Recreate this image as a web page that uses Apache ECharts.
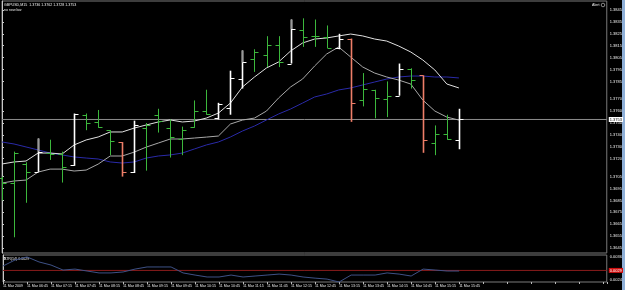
<!DOCTYPE html>
<html><head><meta charset="utf-8">
<script src="https://cdn.jsdelivr.net/npm/echarts@6/dist/echarts.min.js"></script>
<style>html,body{margin:0;padding:0;background:#000;overflow:hidden}#c{width:625px;height:290px}</style>
</head><body><div id="c"></div>
<script>
const symbolName = 'GBPUSD,M15';
const timeLabels = ['11 Mar 2009','11 Mar 06:45','11 Mar 07:15','11 Mar 07:45','11 Mar 08:15','11 Mar 08:45','11 Mar 09:15','11 Mar 09:45','11 Mar 10:15','11 Mar 10:45','11 Mar 11:15','11 Mar 11:45','11 Mar 12:15','11 Mar 12:45','11 Mar 13:15','11 Mar 13:45','11 Mar 14:15','11 Mar 14:45','11 Mar 15:15','11 Mar 15:45'];
const priceTicks = [1.3845,1.3835,1.3825,1.3815,1.3805,1.3795,1.3785,1.3770,1.3760,1.3750,1.3740,1.3730,1.3720,1.3705,1.3695,1.3685,1.3675,1.3665,1.3655,1.3645];
const atrTicks = [0.0036,0.0024];
const atrLevel = 0.0029;

const opens  = [1.3704,1.3700,1.3716,1.3709,1.3725,1.3724,1.3715,1.3757,1.3751,1.3744,1.3734,1.3709,1.3746,1.3757,1.3746,1.3737,1.3747,1.3760,1.3754,1.3763,1.3787,1.3804,1.3807,1.3816,1.3800,1.3828,1.3823,1.3822,1.3813,1.3821,1.3769,1.3778,1.3770,1.3773,1.3795,1.3790,1.3733,1.3741,1.3736];
const highs  = [1.3705,1.3726,1.3717,1.3737,1.3736,1.3726,1.3758,1.3758,1.3761,1.3744,1.3734,1.3752,1.3750,1.3762,1.3753,1.3747,1.3769,1.3778,1.3767,1.3794,1.3811,1.3812,1.3823,1.3823,1.3837,1.3838,1.3837,1.3832,1.3825,1.3821,1.3792,1.3778,1.3785,1.3800,1.3796,1.3790,1.3748,1.3757,1.3762];
const lows   = [1.3685,1.3654,1.3683,1.3709,1.3719,1.3700,1.3714,1.3744,1.3746,1.3723,1.3705,1.3708,1.3710,1.3742,1.3721,1.3723,1.3746,1.3757,1.3753,1.3757,1.3779,1.3793,1.3797,1.3797,1.3800,1.3814,1.3814,1.3813,1.3812,1.3751,1.3764,1.3754,1.3755,1.3773,1.3779,1.3725,1.3723,1.3736,1.3728];
const closes = [1.3700,1.3725,1.3709,1.3726,1.3724,1.3713,1.3758,1.3750,1.3747,1.3735,1.3709,1.3748,1.3748,1.3752,1.3738,1.3744,1.3760,1.3758,1.3766,1.3788,1.3801,1.3810,1.3816,1.3801,1.3829,1.3822,1.3823,1.3813,1.3821,1.3767,1.3779,1.3771,1.3773,1.3795,1.3786,1.3736,1.3741,1.3737,1.3753];
// g = green bar, w = white bar, v = white bar with grey wick above close, r = red bar
const barKinds = ['g','g','g','v','g','g','w','g','g','g','r','w','g','g','g','g','g','g','w','w','v','g','g','g','v','g','g','g','w','r','g','g','g','w','g','r','g','g','w'];

const maUpper = [1.37156,1.37173,1.37181,1.37248,1.37248,1.37240,1.37316,1.37358,1.37383,1.37425,1.37425,1.37458,1.37484,1.37509,1.37526,1.37509,1.37517,1.37542,1.37584,1.37668,1.37803,1.37887,1.37963,1.38013,1.38105,1.38173,1.38206,1.38215,1.38232,1.38248,1.38232,1.38206,1.38189,1.38147,1.38097,1.38030,1.37946,1.37828,1.37795];
const maLower = [1.36996,1.37013,1.37021,1.37088,1.37113,1.37113,1.37097,1.37105,1.37155,1.37223,1.37223,1.37256,1.37298,1.37332,1.37366,1.37366,1.37374,1.37382,1.37391,1.37492,1.37525,1.37542,1.37601,1.37710,1.37803,1.37870,1.37979,1.38080,1.38139,1.38055,1.37971,1.37920,1.37887,1.37861,1.37828,1.37693,1.37601,1.37550,1.37525];
const maSlow  = [1.37341,1.37324,1.37299,1.37274,1.37248,1.37232,1.37215,1.37206,1.37198,1.37173,1.37164,1.37173,1.37206,1.37223,1.37232,1.37248,1.37282,1.37316,1.37341,1.37383,1.37433,1.37475,1.37526,1.37576,1.37618,1.37668,1.37719,1.37744,1.37778,1.37795,1.37820,1.37845,1.37870,1.37887,1.37895,1.37895,1.37887,1.37887,1.37879];
const atrValues = [0.00313,0.00344,0.00360,0.00334,0.00318,0.00292,0.00297,0.00287,0.00277,0.00277,0.00282,0.00297,0.00308,0.00308,0.00308,0.00277,0.00266,0.00256,0.00256,0.00266,0.00256,0.00261,0.00266,0.00271,0.00266,0.00256,0.00250,0.00245,0.00230,0.00266,0.00266,0.00266,0.00277,0.00271,0.00261,0.00297,0.00292,0.00287,0.00287];

const kindColor = {g:'#3cb83c', w:'#ffffff', v:'#ffffff', r:'#ee7e68'};
const n = closes.length;
const last = n - 1;
const ohlcData = closes.map((c,i)=>[i, opens[i], highs[i], lows[i], c, barKinds[i]]);
const pair = arr => arr.map((v,i)=>[i,v]);
const XMAX = 50.3;
const FONT = 'Liberation Sans, Arial, sans-serif';

function hLine(value, color, boxBg, boxFg, xi, yi){
  return {type:'line', xAxisIndex:xi, yAxisIndex:yi, data:[[0,value],[XMAX,value]], showSymbol:false, silent:true,
    lineStyle:{color:color, width:1}, z:1,
    endLabel:{show:true, distance:2, formatter:()=>value.toFixed(4), color:boxFg, backgroundColor:boxBg,
      fontSize:4, fontFamily:FONT, padding:[1,1,0,1]}};
}

const chart = echarts.init(document.getElementById('c'), null, {renderer:'canvas'});
chart.setOption({
  animation:false,
  backgroundColor:'#000',
  grid:[
    {left:2, right:18, top:1, bottom:37, show:true, borderColor:'#7a7a7a', borderWidth:1, backgroundColor:'#000'},
    {left:2, right:18, top:255, bottom:8, show:true, borderColor:'#7a7a7a', borderWidth:1, backgroundColor:'#000'}
  ],
  xAxis:[
    {gridIndex:0, type:'value', min:0, max:XMAX, show:false},
    {gridIndex:1, type:'value', min:0, max:XMAX, interval:2,
     axisLine:{show:false}, splitLine:{show:false},
     axisTick:{show:true, length:2, lineStyle:{color:'#bbb'}},
     axisLabel:{fontSize:3.6, fontFamily:FONT, color:'#e8e8e8', align:'left', margin:2,
       formatter:v=>{const i=Math.round(v/2); return (Math.abs(v-2*i)<1e-6 && i<timeLabels.length)?timeLabels[i]:'';}}}
  ],
  yAxis:[
    {gridIndex:0, type:'value', position:'right', min:1.36408, max:1.385256,
     axisLine:{show:true, lineStyle:{color:'#c8c8c8'}}, splitLine:{show:false},
     axisTick:{show:true, customValues:priceTicks, length:2, lineStyle:{color:'#ccc'}},
     axisLabel:{customValues:priceTicks, fontSize:4, fontFamily:FONT, color:'#f0f0f0', margin:3, formatter:v=>v.toFixed(4)}},
    {gridIndex:1, type:'value', position:'right', min:0.0023, max:0.0037,
     axisLine:{show:true, lineStyle:{color:'#c8c8c8'}}, splitLine:{show:false},
     axisTick:{show:true, customValues:atrTicks, length:2, lineStyle:{color:'#ccc'}},
     axisLabel:{customValues:atrTicks, fontSize:4, fontFamily:FONT, color:'#f0f0f0', margin:3, formatter:v=>v.toFixed(4)}}
  ],
  graphic:[
    {type:'text', left:4, top:3, style:{text:symbolName+'  '+[opens[last],highs[last],lows[last],closes[last]].map(v=>v.toFixed(4)).join(' '), fill:'#f0f0f0', font:'3.6px '+FONT}},
    {type:'text', left:4, top:8, style:{text:'no new bar', fill:'#f0f0f0', font:'3.6px '+FONT}},
    {type:'text', left:592, top:3, style:{text:'Alert', fill:'#f0f0f0', font:'3.6px '+FONT}},
    {type:'circle', shape:{cx:603, cy:5, r:1.8}, style:{fill:'none', stroke:'#ddd', lineWidth:0.6}},
    {type:'text', left:4, top:257, style:{text:'ATR(14) '+atrValues[last].toFixed(4), fill:'#f0f0f0', font:'3.6px '+FONT}},
    {type:'rect', shape:{x:622, y:0, width:3, height:290}, style:{fill:'#8fb0d8'}}
  ],
  series:[
    hLine(closes[last], '#8c8c8c', '#ffffff', '#000000', 0, 0),
    {type:'line', xAxisIndex:0, yAxisIndex:0, data:pair(maSlow), showSymbol:false, lineStyle:{color:'#2a2aa8', width:1}, z:2},
    {type:'line', xAxisIndex:0, yAxisIndex:0, data:pair(maLower), showSymbol:false, lineStyle:{color:'#a8a8a8', width:1}, z:2},
    {type:'line', xAxisIndex:0, yAxisIndex:0, data:pair(maUpper), showSymbol:false, lineStyle:{color:'#e0e0e0', width:1}, z:2},
    {type:'custom', xAxisIndex:0, yAxisIndex:0, data:ohlcData, z:3,
     renderItem:function(params, api){
       const k = api.value(0);
       const pO = api.coord([k, api.value(1)]);
       const pH = api.coord([k, api.value(2)]);
       const pL = api.coord([k, api.value(3)]);
       const pC = api.coord([k, api.value(4)]);
       const kind = ohlcData[params.dataIndex][5];
       const col = kindColor[kind];
       const lw = kind==='g' ? 1 : 1.6;
       const x = Math.round(pH[0]) + 0.5;
       const yo = Math.round(pO[1]) + 0.5, yc = Math.round(pC[1]) + 0.5;
       const kids = [
         {type:'line', shape:{x1:x, y1:pH[1], x2:x, y2:pL[1]}, style:{stroke:col, lineWidth:lw}},
         {type:'line', shape:{x1:x-4, y1:yo, x2:x, y2:yo}, style:{stroke:col, lineWidth:1}},
         {type:'line', shape:{x1:x, y1:yc, x2:x+4, y2:yc}, style:{stroke:col, lineWidth:1}}
       ];
       if (kind === 'v') {
         kids.push({type:'line', shape:{x1:x, y1:pH[1], x2:x, y2:pC[1]}, style:{stroke:'#9a9a9a', lineWidth:lw}});
       }
       return {type:'group', children:kids};
     }},
    hLine(atrLevel, '#8a1c1c', '#d01010', '#ffffff', 1, 1),
    {type:'line', xAxisIndex:1, yAxisIndex:1, data:pair(atrValues), showSymbol:false, lineStyle:{color:'#3e5186', width:1}, z:2}
  ]
});
</script></body></html>
